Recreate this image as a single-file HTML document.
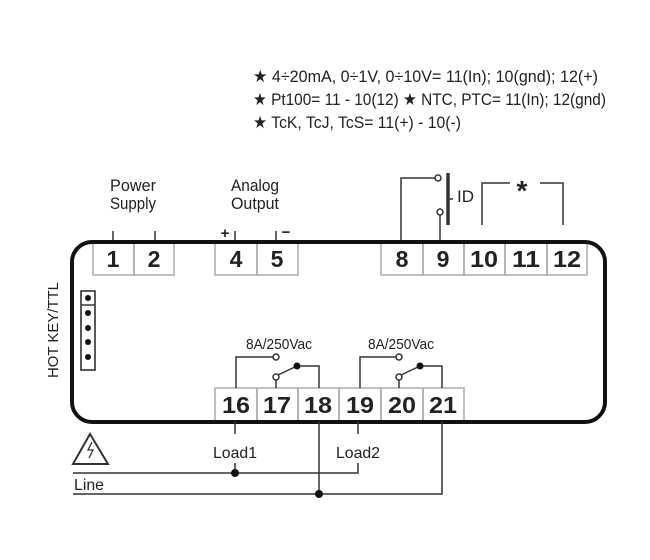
<!DOCTYPE html>
<html><head><meta charset="utf-8"><style>
html,body{margin:0;padding:0;background:#fff;}
svg{display:block;}
text{font-family:"Liberation Sans",sans-serif;fill:#222;}
.n{font-weight:bold;font-size:23px;text-anchor:middle;}
.t{font-size:17px;}
</style></head><body>
<svg width="650" height="560" viewBox="0 0 650 560" xmlns="http://www.w3.org/2000/svg">
<text class="t" x="253" y="82" textLength="345" lengthAdjust="spacingAndGlyphs">★ 4÷20mA, 0÷1V, 0÷10V= 11(In); 10(gnd); 12(+)</text>
<text class="t" x="253" y="105" textLength="353" lengthAdjust="spacingAndGlyphs">★ Pt100= 11 - 10(12)  ★ NTC, PTC= 11(In); 12(gnd)</text>
<text class="t" x="253" y="128" textLength="208" lengthAdjust="spacingAndGlyphs">★ TcK, TcJ, TcS= 11(+) - 10(-)</text>

<text class="t" x="133" y="191" text-anchor="middle" textLength="46" lengthAdjust="spacingAndGlyphs">Power</text>
<text class="t" x="133" y="209" text-anchor="middle" textLength="46" lengthAdjust="spacingAndGlyphs">Supply</text>
<text class="t" x="255" y="191" text-anchor="middle" textLength="48" lengthAdjust="spacingAndGlyphs">Analog</text>
<text class="t" x="255" y="209" text-anchor="middle" textLength="48" lengthAdjust="spacingAndGlyphs">Output</text>
<text x="225" y="238" font-size="15" font-weight="bold" text-anchor="middle">+</text>
<text x="286" y="237" font-size="15" font-weight="bold" text-anchor="middle">−</text>
<text class="t" x="457" y="202" textLength="17" lengthAdjust="spacingAndGlyphs">ID</text>
<text x="522" y="200" font-size="28" font-weight="bold" text-anchor="middle">*</text>

<g stroke="#333" stroke-width="1.5" fill="none">
<line x1="113" y1="231" x2="113" y2="243"/>
<line x1="155" y1="231" x2="155" y2="243"/>
<line x1="235" y1="231" x2="235" y2="243"/>
<line x1="276" y1="231" x2="276" y2="243"/>
<polyline points="401,243 401,178 435,178"/>
<circle cx="438" cy="178" r="3" fill="#fff"/>
<line x1="440" y1="243" x2="440" y2="215"/>
<circle cx="440" cy="212" r="3" fill="#fff"/>
<line x1="448" y1="173" x2="448" y2="225" stroke-width="3.5"/>
<line x1="449" y1="199" x2="453" y2="199"/>
<polyline points="482,225 482,183 510,183"/>
<polyline points="540,183 563,183 563,225"/>

<rect x="93" y="243" width="41" height="32" stroke="#aaa"/>
<rect x="134" y="243" width="40" height="32" stroke="#aaa"/>
<rect x="215" y="243" width="42" height="32" stroke="#aaa"/>
<rect x="257" y="243" width="41" height="32" stroke="#aaa"/>
<rect x="381" y="243" width="42" height="32" stroke="#aaa"/>
<rect x="423" y="243" width="41" height="32" stroke="#aaa"/>
<rect x="464" y="243" width="41" height="32" stroke="#aaa"/>
<rect x="505" y="243" width="42" height="32" stroke="#aaa"/>
<rect x="547" y="243" width="40" height="32" stroke="#aaa"/>
<rect x="215" y="388" width="42" height="33" stroke="#aaa"/>
<rect x="257" y="388" width="41" height="33" stroke="#aaa"/>
<rect x="298" y="388" width="41" height="33" stroke="#aaa"/>
<rect x="339" y="388" width="42" height="33" stroke="#aaa"/>
<rect x="381" y="388" width="42" height="33" stroke="#aaa"/>
<rect x="423" y="388" width="41" height="33" stroke="#aaa"/>

<rect x="72" y="242" width="533" height="180" rx="20" ry="20" stroke="#111" stroke-width="4"/>

<rect x="81" y="291" width="14" height="79" stroke="#222"/>
<line x1="81" y1="305" x2="95" y2="305"/>

<polyline points="236,388 236,357 273,357"/>
<circle cx="276" cy="357" r="3" fill="#fff"/>
<line x1="276" y1="388" x2="276" y2="380"/>
<circle cx="276" cy="377" r="3" fill="#fff"/>
<line x1="278" y1="375" x2="297" y2="366"/>
<polyline points="297,366 319,366 319,388"/>
<polyline points="360,388 360,357 396,357"/>
<circle cx="399" cy="357" r="3" fill="#fff"/>
<line x1="399" y1="388" x2="399" y2="380"/>
<circle cx="399" cy="377" r="3" fill="#fff"/>
<line x1="401" y1="375" x2="420" y2="366"/>
<polyline points="420,366 442,366 442,388"/>

<line x1="235" y1="421" x2="235" y2="434"/>
<line x1="358" y1="421" x2="358" y2="434"/>
<polyline points="73,473 358,473 358,463"/>
<line x1="235" y1="463" x2="235" y2="473"/>
<line x1="319" y1="421" x2="319" y2="494"/>
<polyline points="73,494 442,494 442,421"/>
<polygon points="90,434 73,464 108,464" stroke-width="2"/>
<polyline points="92,442 88,450 93,450 89,458" stroke-width="1.3"/>
</g>
<g fill="#111">
<circle cx="88" cy="298" r="3"/><circle cx="88" cy="313" r="3"/><circle cx="88" cy="328" r="3"/><circle cx="88" cy="342" r="3"/><circle cx="88" cy="357" r="3"/>
<circle cx="297" cy="366" r="3.5"/><circle cx="420" cy="366" r="3.5"/>
<circle cx="235" cy="473" r="4"/><circle cx="319" cy="494" r="4"/>
</g>

<text class="n" x="113" y="267">1</text>
<text class="n" x="154" y="267">2</text>
<text class="n" x="236" y="267">4</text>
<text class="n" x="277" y="267">5</text>
<text class="n" x="402" y="267">8</text>
<text class="n" x="443" y="267">9</text>
<text class="n" x="484" y="267" textLength="28" lengthAdjust="spacingAndGlyphs">10</text>
<text class="n" x="526" y="267" textLength="28" lengthAdjust="spacingAndGlyphs">11</text>
<text class="n" x="567" y="267" textLength="28" lengthAdjust="spacingAndGlyphs">12</text>
<text class="n" x="236" y="413" textLength="28" lengthAdjust="spacingAndGlyphs">16</text>
<text class="n" x="277" y="413" textLength="28" lengthAdjust="spacingAndGlyphs">17</text>
<text class="n" x="318" y="413" textLength="28" lengthAdjust="spacingAndGlyphs">18</text>
<text class="n" x="360" y="413" textLength="28" lengthAdjust="spacingAndGlyphs">19</text>
<text class="n" x="402" y="413" textLength="28" lengthAdjust="spacingAndGlyphs">20</text>
<text class="n" x="443" y="413" textLength="28" lengthAdjust="spacingAndGlyphs">21</text>

<text x="279" y="349" font-size="15" text-anchor="middle" textLength="66" lengthAdjust="spacingAndGlyphs">8A/250Vac</text>
<text x="401" y="349" font-size="15" text-anchor="middle" textLength="66" lengthAdjust="spacingAndGlyphs">8A/250Vac</text>
<text x="235" y="458" font-size="16" text-anchor="middle" textLength="44" lengthAdjust="spacingAndGlyphs">Load1</text>
<text x="358" y="458" font-size="16" text-anchor="middle" textLength="44" lengthAdjust="spacingAndGlyphs">Load2</text>
<text x="74" y="490" font-size="16" textLength="30" lengthAdjust="spacingAndGlyphs">Line</text>
<text x="0" y="0" font-size="15" text-anchor="middle" textLength="96" lengthAdjust="spacingAndGlyphs" transform="translate(58,330) rotate(-90)">HOT KEY/TTL</text>
</svg>
</body></html>
